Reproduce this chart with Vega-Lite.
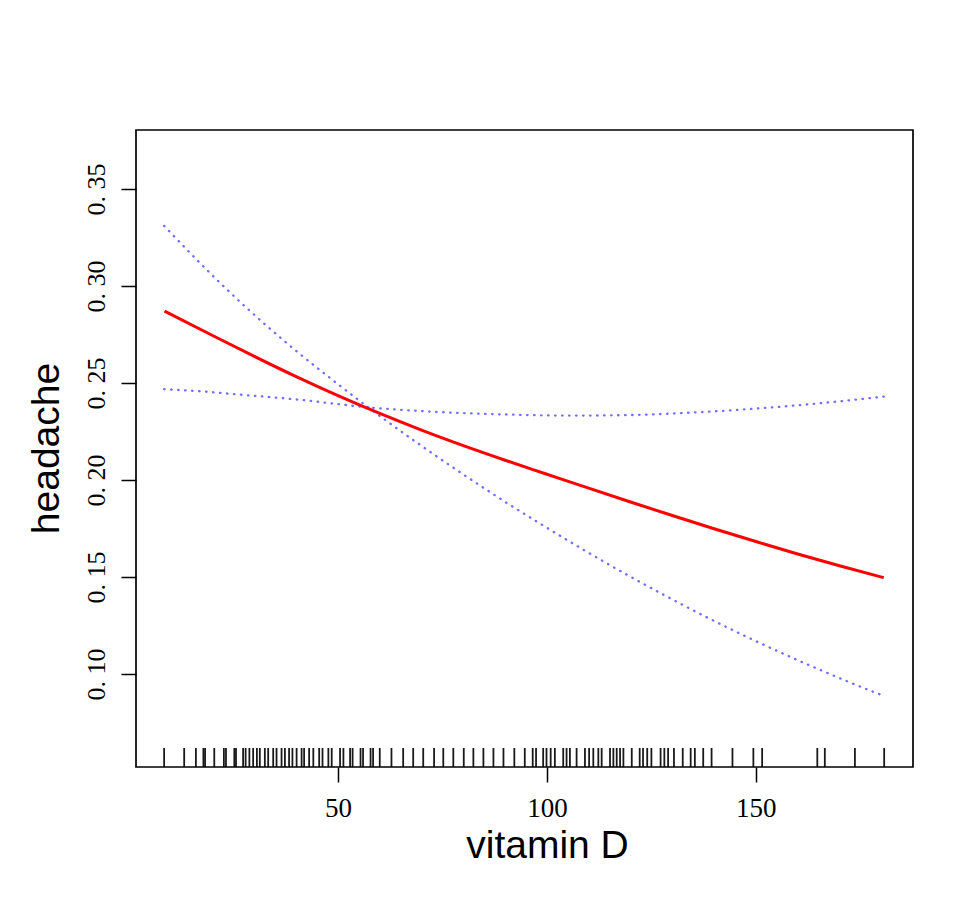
{
  "$schema": "https://vega.github.io/schema/vega-lite/v6.json",
  "width": 777,
  "height": 637,
  "autosize": {"type": "none"},
  "padding": {"left": 136, "top": 130, "right": 40, "bottom": 141},
  "background": "white",
  "config": {
    "view": {"stroke": "black", "strokeWidth": 1.7},
    "axis": {"grid": false, "domain": false, "tickColor": "black", "tickWidth": 1.5, "tickSize": 15, "labelColor": "black", "titleColor": "black"}
  },
  "datasets": {
    "fit": [
      {"vd": 8.5, "p": 0.2871}, {"vd": 20, "p": 0.2745}, {"vd": 30, "p": 0.2637}, {"vd": 40, "p": 0.2533},
      {"vd": 50, "p": 0.2435}, {"vd": 60, "p": 0.2343}, {"vd": 70, "p": 0.2257}, {"vd": 80, "p": 0.2177},
      {"vd": 90, "p": 0.2102}, {"vd": 100, "p": 0.2030}, {"vd": 110, "p": 0.1958}, {"vd": 120, "p": 0.1887},
      {"vd": 130, "p": 0.1817}, {"vd": 140, "p": 0.1749}, {"vd": 150, "p": 0.1683}, {"vd": 160, "p": 0.1619},
      {"vd": 170, "p": 0.1558}, {"vd": 180.6, "p": 0.1497}
    ],
    "ciA": [
      {"vd": 8.4, "p": 0.3310}, {"vd": 18.4, "p": 0.3088}, {"vd": 28.4, "p": 0.2882}, {"vd": 38.4, "p": 0.2694},
      {"vd": 48.4, "p": 0.2521}, {"vd": 58.4, "p": 0.2356}, {"vd": 68.4, "p": 0.2200}, {"vd": 78.4, "p": 0.2052},
      {"vd": 88.4, "p": 0.1910}, {"vd": 98.4, "p": 0.1775}, {"vd": 108.4, "p": 0.1645}, {"vd": 118.4, "p": 0.1521},
      {"vd": 128.4, "p": 0.1403}, {"vd": 138.4, "p": 0.1291}, {"vd": 148.4, "p": 0.1186}, {"vd": 158.4, "p": 0.1087},
      {"vd": 168.4, "p": 0.0994}, {"vd": 178.4, "p": 0.0906}, {"vd": 180.6, "p": 0.0888}
    ],
    "ciB": [
      {"vd": 8.4, "p": 0.2468}, {"vd": 18.6, "p": 0.2455}, {"vd": 26.6, "p": 0.2440}, {"vd": 34.5, "p": 0.2426},
      {"vd": 42.5, "p": 0.2410}, {"vd": 50.5, "p": 0.2390}, {"vd": 58.4, "p": 0.2372}, {"vd": 66.4, "p": 0.2360},
      {"vd": 73.6, "p": 0.2351}, {"vd": 90, "p": 0.2338}, {"vd": 105, "p": 0.2332}, {"vd": 120, "p": 0.2335},
      {"vd": 135, "p": 0.2348}, {"vd": 150, "p": 0.2368}, {"vd": 165, "p": 0.2395}, {"vd": 180.6, "p": 0.2430}
    ],
    "rug": [
      {"vd": 8.4}, {"vd": 13.2}, {"vd": 16.0}, {"vd": 17.8}, {"vd": 18.2}, {"vd": 20.4}, {"vd": 22.7}, {"vd": 23.2},
      {"vd": 25.2}, {"vd": 25.6}, {"vd": 27.3}, {"vd": 27.9}, {"vd": 28.8}, {"vd": 29.7}, {"vd": 30.6}, {"vd": 31.3},
      {"vd": 32.5}, {"vd": 33.3}, {"vd": 34.5}, {"vd": 35.3}, {"vd": 36.5}, {"vd": 37.3}, {"vd": 38.3}, {"vd": 39.1},
      {"vd": 40.1}, {"vd": 41.3}, {"vd": 41.9}, {"vd": 43.1}, {"vd": 44.1}, {"vd": 45.5}, {"vd": 46.3}, {"vd": 47.7},
      {"vd": 48.5}, {"vd": 50.5}, {"vd": 51.3}, {"vd": 52.9}, {"vd": 53.5}, {"vd": 55.4}, {"vd": 56.0}, {"vd": 57.8},
      {"vd": 58.4}, {"vd": 60.0}, {"vd": 62.8}, {"vd": 65.6}, {"vd": 68.0}, {"vd": 70.4}, {"vd": 73.0}, {"vd": 75.2},
      {"vd": 77.6}, {"vd": 80.1}, {"vd": 82.4}, {"vd": 84.8}, {"vd": 87.2}, {"vd": 89.6}, {"vd": 92.2}, {"vd": 94.7},
      {"vd": 96.6}, {"vd": 97.4}, {"vd": 99.1}, {"vd": 99.9}, {"vd": 100.9}, {"vd": 101.9}, {"vd": 103.9}, {"vd": 104.7},
      {"vd": 105.5}, {"vd": 107.1}, {"vd": 109.1}, {"vd": 110.1}, {"vd": 111.1}, {"vd": 112.3}, {"vd": 113.1}, {"vd": 115.1},
      {"vd": 115.9}, {"vd": 116.7}, {"vd": 117.5}, {"vd": 118.3}, {"vd": 120.3}, {"vd": 122.2}, {"vd": 123.0}, {"vd": 124.0},
      {"vd": 125.0}, {"vd": 127.2}, {"vd": 128.1}, {"vd": 129.0}, {"vd": 130.4}, {"vd": 132.5}, {"vd": 134.4}, {"vd": 135.4},
      {"vd": 137.4}, {"vd": 139.4}, {"vd": 144.4}, {"vd": 149.4}, {"vd": 151.5}, {"vd": 164.7}, {"vd": 166.5}, {"vd": 173.7},
      {"vd": 180.7}
    ]
  },
  "layer": [
    {
      "data": {"name": "rug"},
      "mark": {"type": "rule", "color": "black", "strokeWidth": 1.8, "opacity": 0.9},
      "encoding": {
        "x": {"field": "vd", "type": "quantitative", "scale": {"domain": [1.67, 187.6], "nice": false, "zero": false},
          "axis": {"values": [50, 100, 150], "title": "vitamin D", "labelFont": "Liberation Serif", "labelFontSize": 27, "labelPadding": 13,
            "titleFont": "Liberation Sans", "titleFontSize": 39, "titleFontWeight": "normal", "titleX": 411, "titleY": 90, "titleBaseline": "alphabetic"}},
        "y": {"datum": 0.0521, "type": "quantitative", "scale": {"domain": [0.0521, 0.3804], "nice": false, "zero": false},
          "axis": {"values": [0.10, 0.15, 0.20, 0.25, 0.30, 0.35], "labelExpr": "replace(format(datum.value, '.2f'), '.', '. ')", "labelAngle": -90,
            "labelFont": "Liberation Serif", "labelFontSize": 26, "labelPadding": 12, "labelAlign": "center", "labelBaseline": "bottom",
            "title": "headache", "titleFont": "Liberation Sans", "titleFontSize": 39, "titleFontWeight": "normal", "titleX": -78, "titleY": 318, "titleAngle": -90, "titleAlign": "center", "titleBaseline": "alphabetic"}},
        "y2": {"datum": 0.0619}
      }
    },
    {
      "data": {"name": "ciA"},
      "mark": {"type": "line", "color": "#6e6eff", "strokeWidth": 2.3, "strokeDash": [0.5, 6.5], "strokeCap": "round", "interpolate": "monotone"},
      "encoding": {"x": {"field": "vd", "type": "quantitative"}, "y": {"field": "p", "type": "quantitative"}}
    },
    {
      "data": {"name": "ciB"},
      "mark": {"type": "line", "color": "#6e6eff", "strokeWidth": 2.3, "strokeDash": [0.5, 6.5], "strokeCap": "round", "interpolate": "monotone"},
      "encoding": {"x": {"field": "vd", "type": "quantitative"}, "y": {"field": "p", "type": "quantitative"}}
    },
    {
      "data": {"name": "fit"},
      "mark": {"type": "line", "color": "#ff0000", "strokeWidth": 3, "interpolate": "monotone"},
      "encoding": {"x": {"field": "vd", "type": "quantitative"}, "y": {"field": "p", "type": "quantitative"}}
    }
  ]
}
